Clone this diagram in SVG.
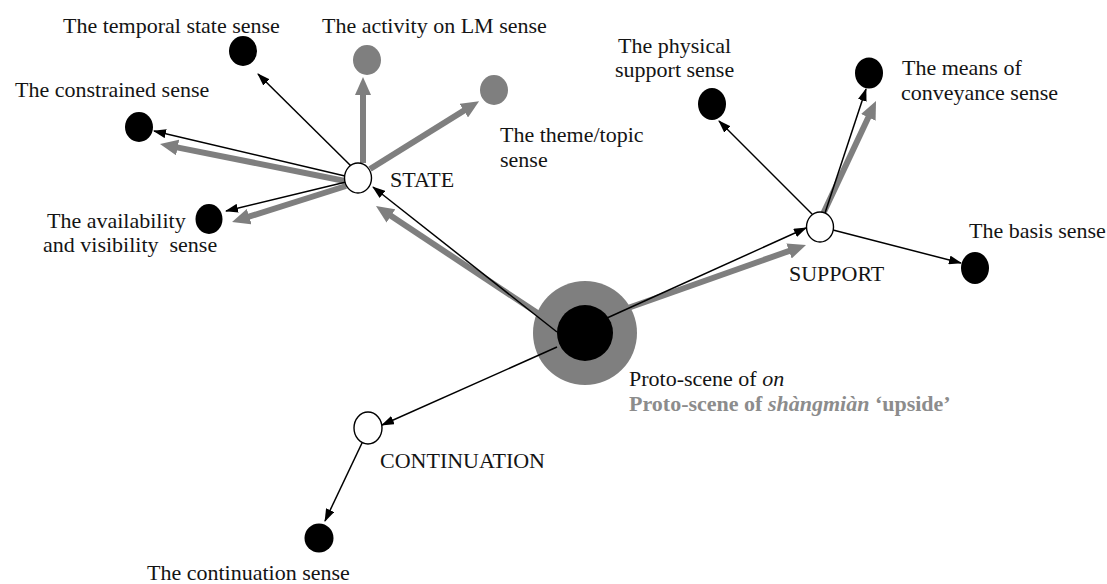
<svg xmlns="http://www.w3.org/2000/svg" width="1107" height="584" viewBox="0 0 1107 584">
  <style>
    .lbl { font-family: "Liberation Serif", "Times New Roman", serif; font-size: 22px; fill: #141414; }
    .lbl-gray { font-family: "Liberation Serif", "Times New Roman", serif; font-size: 22px; fill: #8c8c8c; font-weight: bold; }
    .sense { fill: #000; }
    .sense-gray { fill: #7f7f7f; }
    .hub { fill: #fff; stroke: #000; stroke-width: 1.4; }
    .link { stroke: #000; stroke-width: 1.5; fill: none; marker-end: url(#head-black); }
    .link-gray { stroke: #7f7f7f; stroke-width: 6; fill: none; marker-end: url(#head-gray); }
  </style>
  <defs>
    <marker id="head-black" viewBox="0 0 13 9" refX="12" refY="4.5" markerWidth="13" markerHeight="9" markerUnits="userSpaceOnUse" orient="auto">
      <path d="M0,0 L13,4.5 L0,9 z" fill="#000"/>
    </marker>
    <marker id="head-gray" viewBox="0 0 18 16" refX="2" refY="8" markerWidth="18" markerHeight="16" markerUnits="userSpaceOnUse" orient="auto">
      <path d="M0,0 L18,8 L0,16 z" fill="#7f7f7f"/>
    </marker>
  </defs>
  <rect width="1107" height="584" fill="#fff"/>

  <!-- central proto-scene: grey ring for shangmian, black core for on -->
  <g id="proto-scene">
    <circle cx="585" cy="333" r="52" fill="#7f7f7f"/>
    <circle cx="585" cy="333" r="28" fill="#000"/>
    <text class="lbl" x="629" y="386">Proto-scene of <tspan font-style="italic">on</tspan></text>
    <text class="lbl-gray" x="629" y="411">Proto-scene of <tspan font-style="italic">shàngmiàn</tspan> ‘upside’</text>
  </g>

  <g id="connectors">
    <!-- grey: shangmian extensions -->
    <line class="link-gray" x1="363" y1="163" x2="363" y2="93"/>
    <line class="link-gray" x1="370" y1="169" x2="465.5" y2="109.6"/>
    <line class="link-gray" x1="345" y1="181" x2="175.7" y2="147.1"/>
    <line class="link-gray" x1="346" y1="186" x2="247.3" y2="217.2"/>
    <line class="link-gray" x1="545" y1="318" x2="389.3" y2="214.8"/>
    <line class="link-gray" x1="628" y1="308" x2="790.9" y2="250.3"/>
    <line class="link-gray" x1="823" y1="214" x2="869.2" y2="115.5"/>
    <!-- black: on extensions -->
    <line class="link" x1="351" y1="166" x2="258" y2="74"/>
    <line class="link" x1="345" y1="176" x2="154" y2="131"/>
    <line class="link" x1="346" y1="182" x2="226" y2="211"/>
    <line class="link" x1="557" y1="332" x2="373" y2="187"/>
    <line class="link" x1="607" y1="318" x2="806" y2="228"/>
    <line class="link" x1="812" y1="214" x2="719" y2="121"/>
    <line class="link" x1="825" y1="213" x2="866" y2="89"/>
    <line class="link" x1="833" y1="230" x2="961" y2="263"/>
    <line class="link" x1="557" y1="347" x2="382" y2="425"/>
    <line class="link" x1="362" y1="443" x2="325" y2="521"/>
  </g>

  <!-- STATE cluster -->
  <g id="state">
    <ellipse class="hub" cx="358" cy="178" rx="13.5" ry="15"/>
    <text class="lbl" x="390" y="187">STATE</text>
  </g>
  <g id="temporal-state">
    <ellipse class="sense" cx="243" cy="51" rx="14" ry="15"/>
    <text class="lbl" x="63" y="33">The temporal state sense</text>
  </g>
  <g id="activity-on-lm">
    <ellipse class="sense-gray" cx="367" cy="60" rx="14" ry="15"/>
    <text class="lbl" x="322" y="33">The activity on LM sense</text>
  </g>
  <g id="theme-topic">
    <ellipse class="sense-gray" cx="494" cy="90" rx="14" ry="15"/>
    <text class="lbl" x="500" y="142">The theme/topic</text>
    <text class="lbl" x="500" y="167">sense</text>
  </g>
  <g id="constrained">
    <ellipse class="sense" cx="139" cy="127" rx="14" ry="15"/>
    <text class="lbl" x="15" y="97">The constrained sense</text>
  </g>
  <g id="availability">
    <ellipse class="sense" cx="209" cy="219" rx="13.5" ry="15"/>
    <text class="lbl" x="47" y="228">The availability</text>
    <text class="lbl" x="43" y="252" xml:space="preserve">and visibility  sense</text>
  </g>

  <!-- SUPPORT cluster -->
  <g id="support">
    <ellipse class="hub" cx="820" cy="227" rx="13.5" ry="15"/>
    <text class="lbl" x="789" y="281">SUPPORT</text>
  </g>
  <g id="physical-support">
    <ellipse class="sense" cx="712" cy="104" rx="14" ry="16"/>
    <text class="lbl" x="618" y="53">The physical</text>
    <text class="lbl" x="615" y="77">support sense</text>
  </g>
  <g id="means-of-conveyance">
    <ellipse class="sense" cx="869" cy="73" rx="14" ry="15.5"/>
    <text class="lbl" x="902" y="75">The means of</text>
    <text class="lbl" x="901" y="100">conveyance sense</text>
  </g>
  <g id="basis">
    <ellipse class="sense" cx="975" cy="268" rx="14" ry="16"/>
    <text class="lbl" x="969" y="238">The basis sense</text>
  </g>

  <!-- CONTINUATION cluster -->
  <g id="continuation">
    <ellipse class="hub" cx="368" cy="428" rx="14" ry="16"/>
    <text class="lbl" x="380" y="468">CONTINUATION</text>
  </g>
  <g id="continuation-sense">
    <ellipse class="sense" cx="319" cy="538" rx="14.5" ry="14.5"/>
    <text class="lbl" x="147" y="580">The continuation sense</text>
  </g>
</svg>
